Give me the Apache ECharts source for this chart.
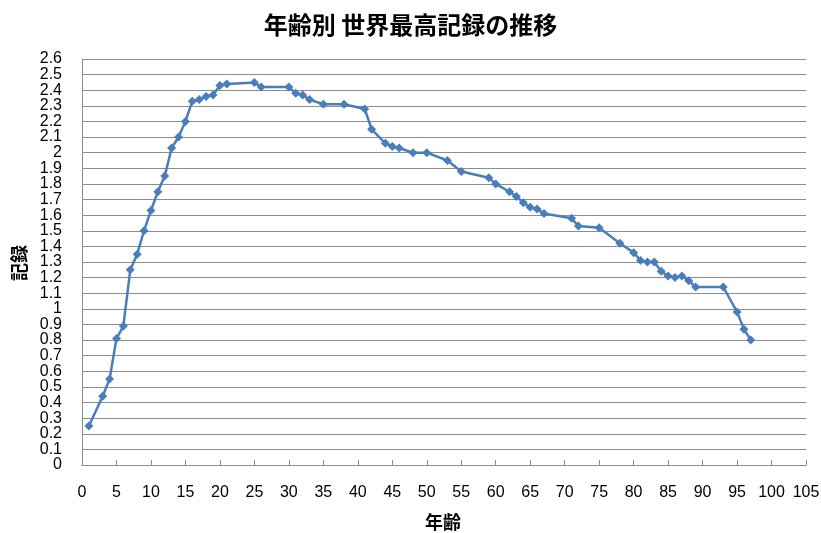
<!DOCTYPE html>
<html>
<head>
<meta charset="utf-8">
<script src="https://cdn.jsdelivr.net/npm/echarts@6/dist/echarts.min.js"></script>
<style>
  html, body { margin: 0; padding: 0; background: #fff; }
  #main { width: 821px; height: 533px; }
</style>
</head>
<body>
<div id="main"></div>
<script>
  // 年齢 (age) and 記録 (record)
  const ages = [1, 3, 4, 5, 6, 7, 8, 9, 10, 11, 12, 13, 14, 15, 16, 17, 18, 19, 20, 21,
    25, 26, 30, 31, 32, 33, 35, 38, 41, 42, 44, 45, 46, 48, 50, 53, 55, 59, 60, 62,
    63, 64, 65, 66, 67, 71, 72, 75, 78, 80, 81, 82, 83, 84, 85, 86, 87, 88, 89, 93,
    95, 96, 97];
  const records = [0.25, 0.44, 0.55, 0.81, 0.89, 1.25, 1.35, 1.50, 1.63, 1.75, 1.85, 2.03, 2.10, 2.20, 2.33, 2.34, 2.36, 2.37, 2.43, 2.44,
    2.45, 2.42, 2.42, 2.38, 2.37, 2.34, 2.31, 2.31, 2.28, 2.15, 2.06, 2.04, 2.03, 2.00, 2.00, 1.95, 1.88, 1.84, 1.80, 1.75,
    1.72, 1.68, 1.65, 1.64, 1.61, 1.58, 1.53, 1.52, 1.42, 1.36, 1.31, 1.30, 1.30, 1.24, 1.21, 1.20, 1.21, 1.18, 1.14, 1.14,
    0.98, 0.87, 0.80];

  const titleText = '年齢別 世界最高記録の推移';
  const xName = '年齢';
  const yName = '記録';
  const yMin = 0;
  const yMax = 2.6;

  const points = ages.map((a, i) => [a, records[i]]);

  const jp = '"Noto Sans CJK JP", sans-serif';
  const num = '"Liberation Sans", Arial, sans-serif';

  const isEnd = v => Math.abs(v - yMin) < 1e-6 || Math.abs(v - yMax) < 1e-6;

  // the y labels are packed tighter than their boxes, so the end labels live on a twin axis
  // (otherwise echarts drops 0.1 / 2.5 next to them)
  const yLabelBase = { margin: 20, fontFamily: num, fontSize: 16, color: '#000', hideOverlap: false };

  const chart = echarts.init(document.getElementById('main'));
  chart.setOption({
    animation: false,
    backgroundColor: '#ffffff',
    title: {
      text: titleText,
      left: 'center',
      top: 8,
      textStyle: { fontFamily: jp, fontSize: 24, fontWeight: 'bold', color: '#000' }
    },
    graphic: [
      {
        type: 'text',
        x: 443, y: 522,
        style: { text: xName, font: 'bold 18px ' + jp, fill: '#000', align: 'center', verticalAlign: 'middle' }
      },
      {
        type: 'text',
        x: 19, y: 263,
        rotation: Math.PI / 2,
        style: { text: yName, font: 'bold 18px ' + jp, fill: '#000', align: 'center', verticalAlign: 'middle' }
      }
    ],
    grid: { left: 82, right: 15, top: 59, bottom: 68, containLabel: false, outerBoundsMode: 'none' },
    xAxis: {
      type: 'value',
      min: 0,
      max: 105,
      interval: 5,
      axisLine: { show: true, lineStyle: { color: '#8c8c8c', width: 1 } },
      axisTick: { show: true, inside: true, length: 5, lineStyle: { color: '#8c8c8c' } },
      axisLabel: { margin: 20, fontFamily: num, fontSize: 16, color: '#000', showMinLabel: true, showMaxLabel: true },
      splitLine: { show: false }
    },
    yAxis: [
      {
        type: 'value',
        min: yMin,
        max: yMax,
        interval: 0.1,
        axisLine: { show: true, lineStyle: { color: '#8c8c8c', width: 1 } },
        axisTick: { show: false },
        axisLabel: Object.assign({}, yLabelBase, {
          showMinLabel: true, showMaxLabel: true,
          formatter: v => (isEnd(v) ? '' : String(+v.toFixed(1)))
        }),
        splitLine: { show: true, lineStyle: { color: '#8c8c8c', width: 1 } }
      },
      {
        type: 'value',
        position: 'left',
        offset: 0,
        min: yMin,
        max: yMax,
        interval: 0.1,
        axisLine: { show: false },
        axisTick: { show: false },
        axisLabel: Object.assign({}, yLabelBase, {
          showMinLabel: true, showMaxLabel: true,
          formatter: v => (isEnd(v) ? String(+v.toFixed(1)) : '')
        }),
        splitLine: { show: false }
      }
    ],
    series: [{
      type: 'line',
      yAxisIndex: 0,
      data: points,
      symbol: 'diamond',
      symbolSize: 9,
      lineStyle: { color: '#4a7ebb', width: 2.5 },
      itemStyle: { color: '#4a7ebb' }
    }]
  });
</script>
</body>
</html>
